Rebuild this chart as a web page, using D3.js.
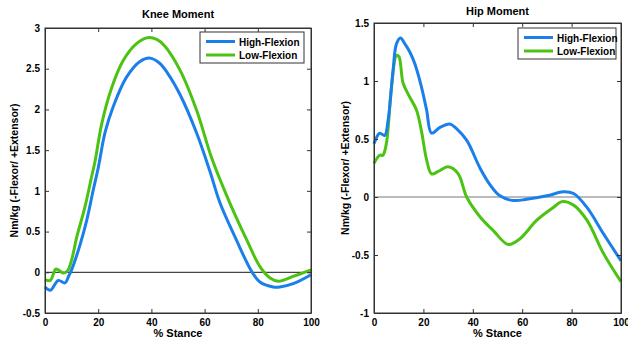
<!DOCTYPE html>
<html>
<head>
<meta charset="utf-8">
<script src="https://cdn.jsdelivr.net/npm/d3@7"></script>
<style>
body { margin: 0; background: #fff; }
text { font-family: "Liberation Sans", Arial, sans-serif; font-weight: bold; fill: #000; }
</style>
</head>
<body>
<svg id="chart" width="628" height="340"></svg>
<script>
// knee moment, % stance vs Nm/kg
var kneeHigh = [[0,-0.18],[2,-0.22],[5,-0.1],[7.5,-0.13],[9,-0.04],[10,0.03],[13.2,0.34],[15.7,0.64],[18.2,1.02],[20,1.28],[22.6,1.72],[25.7,2.04],[30.7,2.4],[35.7,2.59],[39.5,2.63],[43,2.57],[46,2.45],[50.8,2.18],[57,1.71],[62,1.24],[65.8,0.85],[71.9,0.4],[77.7,0.01],[80.8,-0.12],[85.8,-0.18],[88.3,-0.18],[93.3,-0.14],[100,-0.03]];
var kneeLow = [[0,-0.09],[2,-0.1],[4,0.04],[5,0.03],[7,-0.01],[8.5,0.02],[10,0.15],[12,0.44],[15,0.8],[17.5,1.17],[18.8,1.36],[21.3,1.82],[25,2.26],[29.4,2.6],[34.5,2.81],[38.5,2.88],[42,2.86],[45,2.78],[50.8,2.48],[57,1.99],[62.7,1.4],[69.5,0.85],[75.8,0.4],[80.8,0.07],[84.6,-0.07],[87.7,-0.11],[93.3,-0.05],[100,0.03]];
// hip moment
var hipHigh = [[0,0.46],[2.3,0.55],[4.3,0.53],[5.7,0.66],[7.7,1.09],[9.1,1.32],[10.7,1.37],[12.5,1.32],[14.5,1.25],[16.5,1.15],[19.2,0.95],[21.3,0.75],[23.3,0.55],[26.7,0.6],[30.7,0.63],[33.4,0.59],[37.5,0.49],[42.9,0.25],[46.5,0.12],[51,0.01],[56.4,-0.03],[61.8,-0.02],[70,0.01],[76.7,0.045],[80.8,0.03],[86.2,-0.09],[93,-0.32],[100,-0.55]];
var hipLow = [[0,0.29],[2.3,0.36],[3.6,0.36],[5,0.46],[7.1,0.95],[9.1,1.22],[10.1,1.21],[11.8,0.98],[14.5,0.86],[17.2,0.75],[19.2,0.57],[21.3,0.32],[23.3,0.2],[26,0.22],[30,0.26],[34.1,0.2],[37.5,0],[42.9,-0.17],[48.3,-0.29],[54.4,-0.41],[59.1,-0.36],[65.9,-0.2],[72.6,-0.09],[76,-0.04],[80.8,-0.07],[86.2,-0.2],[93,-0.49],[100,-0.73]];

var xTicks = [0, 20, 40, 60, 80, 100];
var kneeTicks = [-0.5, 0, 0.5, 1, 1.5, 2, 2.5, 3];
var hipTicks = [-1, -0.5, 0, 0.5, 1, 1.5];
var seriesNames = ["High-Flexion", "Low-Flexion"];
var colors = ["#1a7fea", "#4cc312"];

var svg = d3.select("#chart");

function drawPanel(opt) {
    var x = d3.scaleLinear().domain([0, 100]).range([opt.left, opt.right]);
    var y = d3.scaleLinear().domain(opt.yDomain).range([opt.bottom, opt.top]);
    var g = svg.append("g");

    // zero line
    g.append("line")
        .attr("x1", x(0)).attr("x2", x(100))
        .attr("y1", y(0)).attr("y2", y(0))
        .attr("stroke", opt.zeroColor).attr("stroke-width", 1.2);

    var line = d3.line()
        .x(function(d) { return x(d[0]); })
        .y(function(d) { return y(d[1]); })
        .curve(d3.curveCatmullRom.alpha(0.5));

    [opt.low, opt.high].forEach(function(data, i) {
        g.append("path")
            .datum(data)
            .attr("d", line)
            .attr("fill", "none")
            .attr("stroke", i == 0 ? colors[1] : colors[0])
            .attr("stroke-width", 3)
            .attr("stroke-linejoin", "round");
    });

    // axes, ticks inward on every side
    g.append("g").attr("transform", "translate(0," + opt.bottom + ")")
        .call(d3.axisBottom(x).tickValues(xTicks).tickSizeInner(-4).tickSizeOuter(0).tickPadding(6).tickFormat(d3.format("d")));
    g.append("g").attr("transform", "translate(" + opt.left + ",0)")
        .call(d3.axisLeft(y).tickValues(opt.yTicks).tickSizeInner(-4).tickSizeOuter(0).tickPadding(5).tickFormat(function(d) { return String(d); }));
    g.append("g").attr("transform", "translate(0," + opt.top + ")")
        .call(d3.axisTop(x).tickValues(xTicks).tickSizeInner(-4).tickSizeOuter(0).tickFormat(""));
    g.append("g").attr("transform", "translate(" + opt.right + ",0)")
        .call(d3.axisRight(y).tickValues(opt.yTicks).tickSizeInner(-4).tickSizeOuter(0).tickFormat(""));
    g.selectAll(".domain").attr("stroke", "#333");
    g.selectAll(".tick line").attr("stroke", "#333");
    g.selectAll(".tick text").style("font-size", "10px").style("font-weight", "bold").attr("fill", "#000");

    g.append("rect")
        .attr("x", opt.left).attr("y", opt.top)
        .attr("width", opt.right - opt.left).attr("height", opt.bottom - opt.top)
        .attr("fill", "none").attr("stroke", "#333");

    g.append("text")
        .attr("x", (opt.left + opt.right) / 2).attr("y", opt.titleY)
        .attr("text-anchor", "middle").style("font-size", "11px")
        .text(opt.title);
    g.append("text")
        .attr("x", (opt.left + opt.right) / 2).attr("y", 337)
        .attr("text-anchor", "middle").style("font-size", "11px")
        .text("% Stance");
    g.append("text")
        .attr("transform", "translate(" + opt.yLabelX + "," + ((opt.top + opt.bottom) / 2) + ") rotate(-90)")
        .attr("text-anchor", "middle").style("font-size", "10.5px")
        .text("Nm/kg (-Flexor/ +Extensor)");

    // legend
    var lg = g.append("g").attr("transform", "translate(" + opt.legend[0] + "," + opt.legend[1] + ")");
    lg.append("rect").attr("width", opt.legend[2]).attr("height", 31)
        .attr("fill", "#fff").attr("stroke", "#333");
    seriesNames.forEach(function(name, i) {
        lg.append("line")
            .attr("x1", 6).attr("x2", 35)
            .attr("y1", 9.5 + i * 13.5).attr("y2", 9.5 + i * 13.5)
            .attr("stroke", colors[i]).attr("stroke-width", 3);
        lg.append("text")
            .attr("x", 39).attr("y", 13.5 + i * 13.5)
            .style("font-size", "10px")
            .text(name);
    });
}

drawPanel({
    left: 45, right: 311, top: 28, bottom: 313,
    yDomain: [-0.5, 3], yTicks: kneeTicks,
    high: kneeHigh, low: kneeLow,
    title: "Knee Moment", titleY: 18, yLabelX: 18,
    zeroColor: "#444", legend: [200, 32, 104]
});

drawPanel({
    left: 374, right: 621, top: 23, bottom: 313,
    yDomain: [-1, 1.5], yTicks: hipTicks,
    high: hipHigh, low: hipLow,
    title: "Hip Moment", titleY: 15, yLabelX: 349,
    zeroColor: "#777", legend: [518, 28, 98]
});
</script>
</body>
</html>
